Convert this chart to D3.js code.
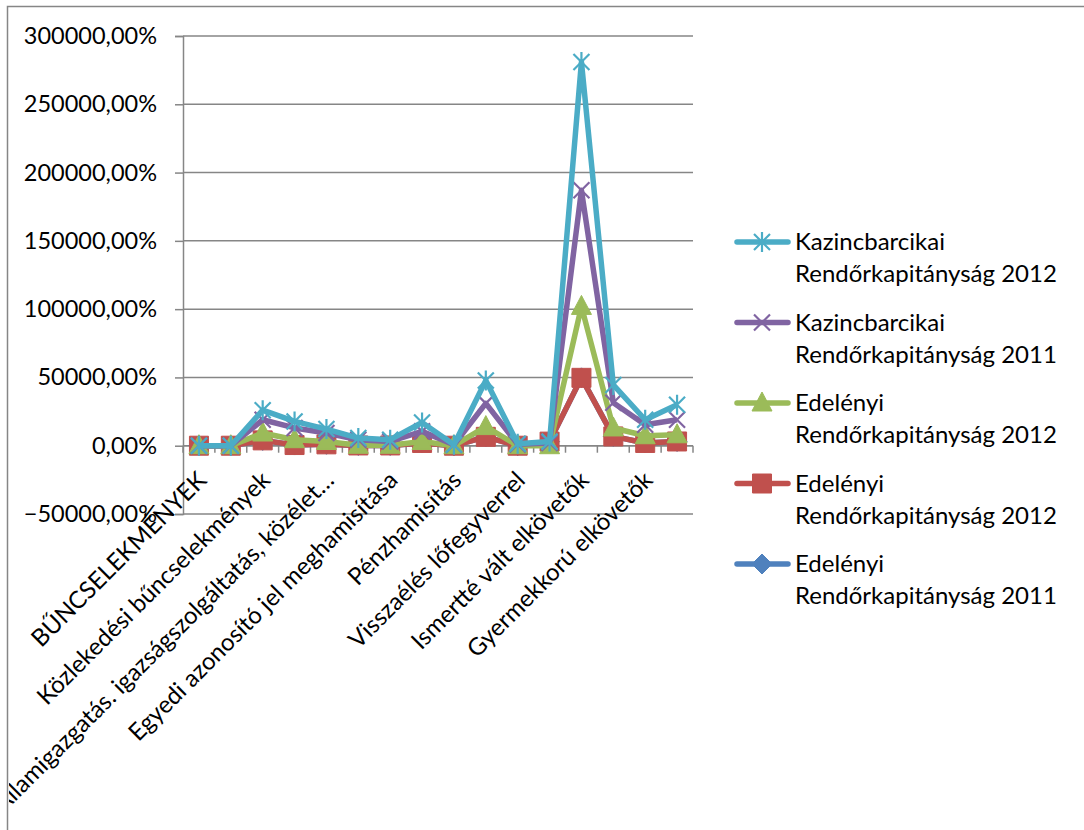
<!doctype html>
<html>
<head>
<meta charset="utf-8">
<style>
  body { margin: 0; background: #fff; }
  text { font-family: Lato, "Open Sans", sans-serif; fill: #000; }
</style>
</head>
<body>
<script src="https://d3js.org/d3.v7.min.js"></script>
<script>

  // categories (16), only every other one is labelled
  var categories = ["BŰNCSELEKMÉNYEK", "c1", "Közlekedési bűncselekmények", "c3",
    "Államigazgatás. igazságszolgáltatás, közélet…", "c5", "Egyedi azonosító jel meghamisítása", "c7",
    "Pénzhamisítás", "c9", "Visszaélés lőfegyverrel", "c11",
    "Ismertté vált elkövetők", "c13", "Gyermekkorú elkövetők", "c15"];
  var labelled = [0, 2, 4, 6, 8, 10, 12, 14];

  // series values (percent)
  var kazinc2012 = [0, 0, 26000, 17800, 12200, 5600, 4400, 17000, 700, 47800, 1500, 3000, 281000, 44500, 19000, 30000];
  var kazinc2011 = [0, 0, 19000, 13000, 9300, 4400, 3100, 10500, 700, 31000, 1000, 2000, 187000, 31500, 15400, 19000];
  var edel2012a  = [0, 0, 9300, 4400, 3100, 300, 300, 3100, 0, 14000, 0, 0, 102000, 13000, 7300, 8000];
  var edel2012b  = [0, 0, 3900, 500, 1000, 200, 200, 2000, 0, 6500, 0, 3000, 49700, 6800, 2000, 3100];
  var edel2011   = [0, 0, 3900, 500, 1000, 200, 200, 2000, 0, 6500, 0, 3000, 49700, 6800, 2000, 3100];

  var yTicks = [-50000, 0, 50000, 100000, 150000, 200000, 250000, 300000];

  var series = [
    { name: ["Kazincbarcikai", "Rendőrkapitányság 2012"], values: kazinc2012, color: "#4BACC6", marker: "star" },
    { name: ["Kazincbarcikai", "Rendőrkapitányság 2011"], values: kazinc2011, color: "#8064A2", marker: "x" },
    { name: ["Edelényi", "Rendőrkapitányság 2012"], values: edel2012a, color: "#9BBB59", marker: "triangle" },
    { name: ["Edelényi", "Rendőrkapitányság 2012"], values: edel2012b, color: "#C0504D", marker: "square" },
    { name: ["Edelényi", "Rendőrkapitányság 2011"], values: edel2011, color: "#4F81BD", marker: "diamond" }
  ];

  var width = 1084, height = 830;
  var pLeft = 183, pRight = 693, pTop = 36, pBottom = 514;
  var grey = "#868686";
  var fs = 24;

  var svg = d3.select("body").append("svg").attr("width", width).attr("height", height);

  svg.append("defs").append("clipPath").attr("id", "frame")
    .append("rect").attr("x", 9).attr("y", 7).attr("width", width).attr("height", height);

  // chart border (only left and top visible)
  svg.append("path").attr("d", "M7.5," + height + "V6.5H" + width)
    .attr("fill", "none").attr("stroke", grey).attr("stroke-width", 1.5);

  var x = d3.scaleBand().domain(d3.range(categories.length)).range([pLeft, pRight]);
  var y = d3.scaleLinear().domain([-50000, 300000]).range([pBottom, pTop]);

  // gridlines
  svg.append("g").selectAll("line").data(yTicks.filter(function(d){ return d != -50000; })).enter()
    .append("line")
    .attr("x1", pLeft).attr("x2", pRight)
    .attr("y1", function(d){ return y(d); }).attr("y2", function(d){ return y(d); })
    .attr("stroke", grey).attr("stroke-width", 1.5);

  // y axis
  var yAxis = svg.append("g").attr("transform", "translate(" + pLeft + ",0)")
    .call(d3.axisLeft(y).tickValues(yTicks).tickSize(8).tickPadding(18)
      .tickFormat(function(d){ return d3.format(".2f")(d).replace(".", ",") + "%"; }));
  yAxis.select(".domain").attr("stroke", grey).attr("stroke-width", 1.5);
  yAxis.selectAll(".tick line").attr("stroke", grey).attr("stroke-width", 1.5);
  yAxis.selectAll("text").style("font-size", "23.5px").style("font-family", "Lato").attr("fill", "#000");

  // bottom edge of plot
  svg.append("line").attr("x1", pLeft).attr("x2", pRight).attr("y1", y(-50000)).attr("y2", y(-50000))
    .attr("stroke", grey).attr("stroke-width", 1.5);

  // category axis at 0
  var xg = svg.append("g");
  xg.append("line").attr("x1", pLeft).attr("x2", pRight).attr("y1", y(0)).attr("y2", y(0))
    .attr("stroke", grey).attr("stroke-width", 1.5);
  xg.selectAll(".tk").data(d3.range(categories.length + 1)).enter().append("line")
    .attr("x1", function(d){ return pLeft + d * x.bandwidth(); })
    .attr("x2", function(d){ return pLeft + d * x.bandwidth(); })
    .attr("y1", y(0)).attr("y2", y(0) + 7)
    .attr("stroke", grey).attr("stroke-width", 1.5);

  // category labels
  svg.append("g").attr("clip-path", "url(#frame)")
    .selectAll("text").data(labelled).enter().append("text")
    .attr("transform", function(d){
      return "translate(" + (x(d) + x.bandwidth() / 2 + 3) + "," + (y(0) + 30) + ") rotate(-45)";
    })
    .attr("text-anchor", "end")
    .attr("dy", "0.35em")
    .style("font-size", fs + "px")
    .text(function(d){ return categories[d]; });

  function markerPath(type) {
    if (type == "star") return "M0,-10V10M-8,-8L8,8M-8,8L8,-8";
    if (type == "x") return "M-8,-8L8,8M-8,8L8,-8";
    if (type == "triangle") return "M0,-11L10,8H-10Z";
    if (type == "square") return "M-9.5,-9.5H9.5V9.5H-9.5Z";
    return "M0,-10L10,0L0,10L-10,0Z";
  }

  var line = d3.line()
    .x(function(d, i){ return x(i) + x.bandwidth() / 2; })
    .y(function(d){ return y(d); });

  // draw last series first so the first one is on top
  series.slice().reverse().forEach(function(s) {
    var g = svg.append("g");
    g.append("path").attr("d", line(s.values))
      .attr("fill", "none").attr("stroke", s.color).attr("stroke-width", 5.5)
      .attr("stroke-linejoin", "round");
    var open = (s.marker == "star" || s.marker == "x");
    g.selectAll("path.m").data(s.values).enter().append("path")
      .attr("class", "m")
      .attr("transform", function(d, i){ return "translate(" + (x(i) + x.bandwidth() / 2) + "," + y(d) + ")"; })
      .attr("d", markerPath(s.marker))
      .attr("fill", open ? "none" : s.color)
      .attr("stroke", s.color).attr("stroke-width", open ? 2.2 : 1);
  });

  // legend
  var lg = svg.append("g");
  series.forEach(function(s, i) {
    var cy = 242 + i * 80.5;
    lg.append("line").attr("x1", 737).attr("x2", 788).attr("y1", cy).attr("y2", cy)
      .attr("stroke", s.color).attr("stroke-width", 5.5).attr("stroke-linecap", "round");
    var open = (s.marker == "star" || s.marker == "x");
    lg.append("path").attr("transform", "translate(762," + cy + ")")
      .attr("d", markerPath(s.marker))
      .attr("fill", open ? "none" : s.color)
      .attr("stroke", s.color).attr("stroke-width", open ? 2.2 : 1);
    s.name.forEach(function(t, j) {
      lg.append("text").attr("x", 795).attr("y", cy + j * 32).attr("dy", "0.35em")
        .style("font-size", fs + "px").text(t);
    });
  });

</script>
</body>
</html>
